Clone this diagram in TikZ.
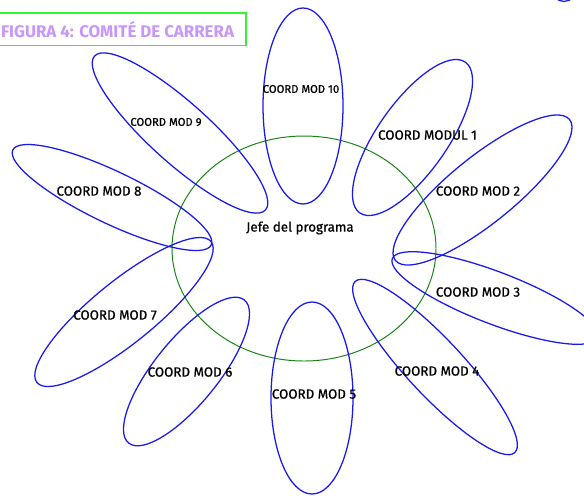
\documentclass[tikz,border=0pt]{standalone}
\usepackage{fontspec}
\setmainfont{Fira Sans}
\newfontfamily\heavyfont[FakeBold=0.8]{Fira Sans}
\usepackage{xcolor}
\usepackage{tikz}

\definecolor{petalblue}{RGB}{25,25,235}
\definecolor{bossgreen}{RGB}{25,130,25}
\definecolor{titlegreen}{RGB}{50,245,50}
\definecolor{titlepurple}{RGB}{200,150,250}

\begin{document}
\begin{tikzpicture}[x=0.025cm, y=-0.025cm,
  petal/.style={draw=petalblue, line width=0.9pt},
  lbl/.style={font=\heavyfont\fontsize{9.5}{11}\selectfont, inner sep=0pt},
  smalllbl/.style={font=\heavyfont\fontsize{8}{10}\selectfont, inner sep=0pt}]
\useasboundingbox (0,0) rectangle (584,495);
\clip (0,0) rectangle (584,495);

% Title box
\draw[titlegreen, line width=1pt] (-5,13) rectangle (246,45.5);
\node[text=titlepurple, font=\bfseries\fontsize{12}{14}\selectfont] (title) at (117.5,29.3)
  {FIGURA 4: COMITÉ DE CARRERA};

% Jefe del programa (center)
\draw[bossgreen, line width=0.7pt] (304,248.5) ellipse [x radius=132, y radius=112.5];
\node[lbl] (jefe) at (300,228) {Jefe del programa};

% Petals, one per coordinator
\draw[petal, rotate around={90:(303,106)}] (303,106) ellipse [x radius=98, y radius=40];
\draw[petal, rotate around={55:(412.5,137.5)}] (412.5,137.5) ellipse [x radius=92, y radius=35];
\draw[petal, rotate around={39:(482.5,190)}] (482.5,190) ellipse [x radius=112, y radius=33];
\draw[petal, rotate around={-21:(495,298)}] (495,298) ellipse [x radius=110, y radius=26];
\draw[petal, rotate around={-47:(435,367)}] (435,367) ellipse [x radius=117, y radius=28];
\draw[petal, rotate around={90:(312,398)}] (312,398) ellipse [x radius=96, y radius=41];
\draw[petal, rotate around={51:(186.5,371.5)}] (186.5,371.5) ellipse [x radius=92, y radius=32];
\draw[petal, rotate around={39:(124,312)}] (124,312) ellipse [x radius=112, y radius=31];
\draw[petal, rotate around={-25.6:(112,197.5)}] (112,197.5) ellipse [x radius=110, y radius=26];
\draw[petal, rotate around={-42:(180,133)}] (180,133) ellipse [x radius=115, y radius=30];

% Edge of a shape above the page
\draw[petal] (564,-14) ellipse [x radius=13, y radius=15.5];

% Coordinator labels
\node[lbl] (mod1) at (427.5,135) {COORD MODUL 1};
\node[lbl] (mod2) at (478,191) {COORD MOD 2};
\node[lbl] (mod3) at (478,292) {COORD MOD 3};
\node[lbl] (mod4) at (437,371) {COORD MOD 4};
\node[lbl] (mod5) at (314,394) {COORD MOD 5};
\node[lbl] (mod6) at (190,372) {COORD MOD 6};
\node[lbl] (mod7) at (115,315) {COORD MOD 7};
\node[lbl] (mod8) at (99,191) {COORD MOD 8};
\node[smalllbl] (mod9) at (166,122) {COORD MOD 9};
\node[smalllbl] (mod10) at (301,89) {COORD MOD 10};

\end{tikzpicture}
\end{document}
